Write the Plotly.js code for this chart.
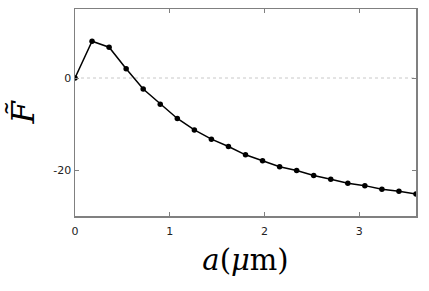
<!DOCTYPE html>
<html>
<head>
<meta charset="utf-8">
<script src="https://cdn.plot.ly/plotly-3.0.1.min.js"></script>
<style>
  html, body { margin: 0; padding: 0; background: #fff; }
  #chart { width: 429px; height: 291px; }
</style>
</head>
<body>
<div id="chart"></div>
<script>
// a in micrometres, step 0.18
const aValues = [0, 0.18, 0.36, 0.54, 0.72, 0.9, 1.08, 1.26, 1.44, 1.62, 1.8,
  1.98, 2.16, 2.34, 2.52, 2.7, 2.88, 3.06, 3.24, 3.42, 3.6];
const fValues = [0, 8.0, 6.7, 2.0, -2.4, -5.7, -8.8, -11.3, -13.3, -14.9, -16.7,
  -18.0, -19.3, -20.1, -21.2, -22.0, -22.9, -23.4, -24.2, -24.6, -25.2];
const xTicks = [0, 1, 2, 3];
const yTicks = [-20, 0];

const trace = {
  x: aValues,
  y: fValues,
  type: "scatter",
  mode: "lines+markers",
  line: { color: "#000", width: 1.5 },
  marker: { color: "#000", size: 5.5 },
  hoverinfo: "skip",
};

const axisStyle = {
  showline: true,
  linecolor: "#808080",
  linewidth: 1.5,
  mirror: "ticks",
  ticks: "inside",
  ticklen: 4,
  tickcolor: "#808080",
  tickwidth: 1,
  showgrid: false,
  zeroline: false,
  tickfont: { family: "DejaVu Sans", size: 11, color: "#222" },
};

const layout = {
  width: 429,
  height: 291,
  margin: { l: 75, r: 13, t: 9, b: 75 },
  paper_bgcolor: "#fff",
  plot_bgcolor: "#fff",
  showlegend: false,
  xaxis: {
    ...axisStyle,
    range: [0, 3.6],
    tickvals: xTicks,
    ticktext: xTicks.map(String),
    ticklabelstandoff: 4,
    title: {
      text: "<i>a</i>(<i>μ</i>m)",
      font: { family: "DejaVu Serif", size: 29, color: "#000" },
      standoff: 13,
    },
  },
  yaxis: {
    ...axisStyle,
    range: [-30, 15],
    tickvals: yTicks,
    ticktext: yTicks.map(String),
    title: {
      text: "<i>F\u0303</i>",
      font: { family: "DejaVu Serif", size: 32, color: "#000" },
      standoff: 9,
    },
  },
  shapes: [
    {
      type: "line",
      xref: "paper",
      yref: "y",
      x0: 0,
      x1: 1,
      y0: 0,
      y1: 0,
      line: { color: "#c8c8c8", width: 1, dash: "dot" },
      layer: "below",
    },
  ],
};

Plotly.newPlot("chart", [trace], layout, { displayModeBar: false, staticPlot: true });
</script>
</body>
</html>
